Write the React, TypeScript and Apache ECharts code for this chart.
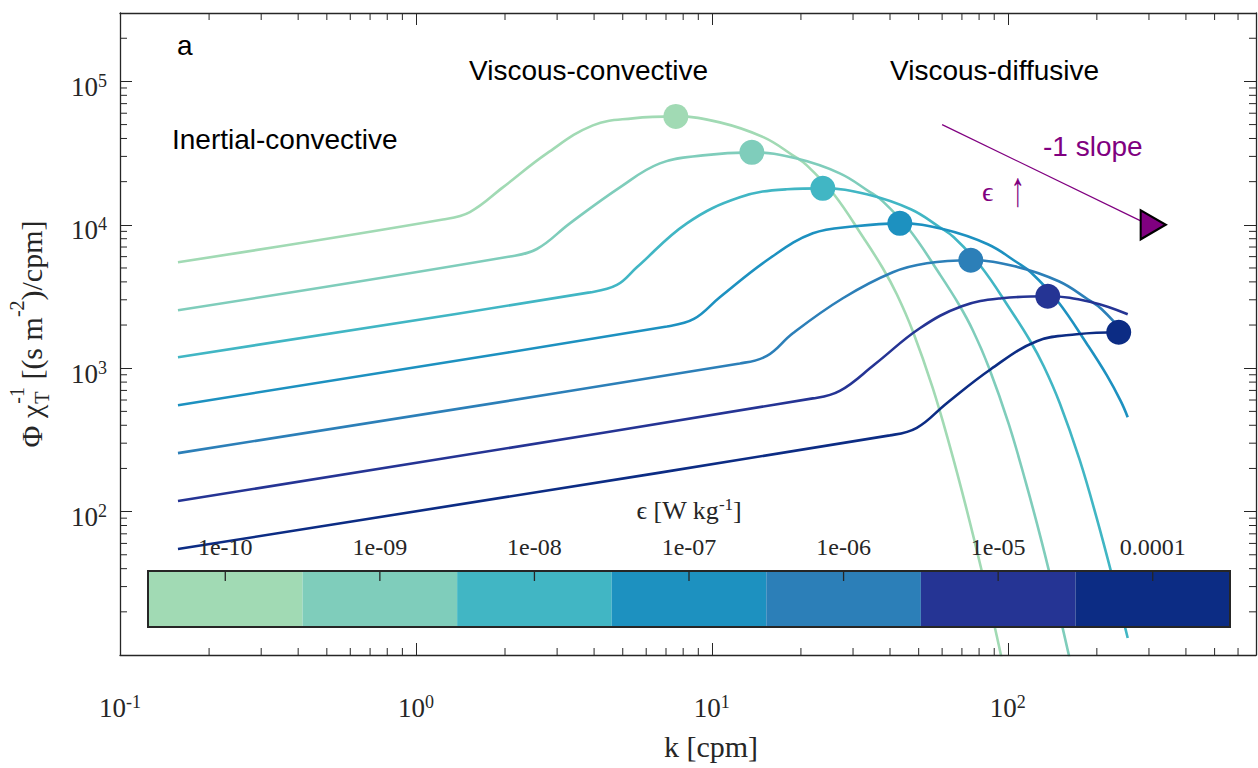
import React, { useEffect, useRef } from 'react';
import * as echarts from 'echarts';

const SERIF = '"Liberation Serif", "Times New Roman", "DejaVu Serif", serif';
const SANS = '"Liberation Sans", Arial, Helvetica, sans-serif';
const AXIS = '#262626';
const PURPLE = '#800080';

const X_MIN = 0.1;
const X_MAX = 690;
const Y_MIN = 10;
const Y_MAX = 3e5;

const epsilonLabels = ['1e-10', '1e-09', '1e-08', '1e-07', '1e-06', '1e-05', '0.0001'];
const curveColors = ['#a1dab4', '#7fcdbb', '#41b6c4', '#1d91c0', '#2c7fb8', '#253494', '#0c2c84'];
const colorbarValues = [1, 1, 1, 1, 1, 1, 1];

// epsilon = 1e-10
const k1 = [0.157, 1.234, 1.522, 1.967, 2.771, 3.963, 5.409, 7.556, 10.64, 14.99, 18.78, 20.94, 25.84, 32.62, 37.83, 42.17, 47.77, 55.8, 63.7, 72.13, 81.69, 91.8, 103.1];
const v1 = [5480, 10890, 12280, 18250, 31500, 49380, 55240, 57030, 51800, 40700, 30500, 25970, 16320, 8052, 4977, 3280, 1810, 725.5, 286.1, 109.2, 38.5, 13.57, 4.41];
// epsilon = 1e-09
const k2 = [0.157, 2.078, 2.563, 3.313, 4.89, 6.673, 9.324, 13.65, 19.22, 27.06, 33.92, 37.83, 46.66, 58.92, 68.31, 76.17, 86.27, 100.8, 115.0, 130.3, 147.5, 165.8];
const v2 = [2537, 6012, 6781, 10240, 18250, 26830, 30500, 32010, 29070, 22850, 17120, 14580, 9156, 4520, 2792, 1840, 1016, 407.1, 160.5, 61.3, 21.6, 7.61];
// epsilon = 1e-08
const k3 = [0.157, 3.871, 4.777, 5.58, 8.232, 12.43, 17.92, 23.71, 33.39, 47.02, 58.92, 65.72, 81.06, 102.4, 118.7, 132.3, 149.9, 175.1, 199.8, 226.3, 254.3];
const v3 = [1193, 3380, 3806, 5055, 10240, 15550, 17680, 17960, 16320, 12830, 9607, 8182, 5138, 2537, 1567, 1033, 570.3, 228.5, 90.09, 34.4, 13.14];
// epsilon = 1e-07
const k4 = [0.157, 7.047, 8.695, 10.64, 15.7, 21.94, 30.42, 43.17, 60.78, 85.6, 107.3, 119.6, 147.5, 186.3, 216.0, 240.9, 254.3];
const v4 = [552.4, 1956, 2206, 3125, 5842, 8727, 9761, 10240, 9303, 7313, 5480, 4667, 2931, 1447, 893.9, 589, 455.5];
// epsilon = 1e-06
const k5 = [0.157, 12.43, 15.34, 18.78, 27.71, 40.88, 53.27, 74.99, 105.6, 148.7, 186.3, 207.8, 254.3];
const v5 = [255.7, 1080, 1218, 1753, 3075, 4667, 5390, 5657, 5138, 4039, 3026, 2577, 1644];
// epsilon = 1e-05
const k6 = [0.157, 21.94, 27.06, 35.54, 50.44, 69.93, 95.4, 136.5, 192.2, 254.3];
const v6 = [118.4, 615.8, 694.7, 1066, 1900, 2705, 3075, 3175, 2884, 2378];
// epsilon = 1e-04
const k7 = [0.157, 39.94, 49.28, 62.22, 87.6, 125.3, 171.1, 237.1, 254.3];
const v7 = [54.79, 340.1, 383.7, 570.3, 984, 1543, 1725, 1781, 1781];

const peakK = [7.556, 13.65, 23.71, 43.17, 74.99, 136.5, 237.1];
const peakV = [57030, 32010, 17960, 10240, 5657, 3175, 1781];

const slopeK = [60, 300];
const slopeV = [50000, 10000];
const arrowK = 310;
const arrowV = 10000;

const minorMultipliers = [2, 3, 4, 5, 6, 7, 8, 9];
const xDecades = [0.1, 1, 10, 100];
const yDecades = [10, 100, 1000, 10000, 100000];

// colorbar box (pixels)
const CB_LEFT = 148;
const CB_TOP = 571;
const CB_WIDTH = 1082;
const CB_HEIGHT = 56;

function measure(text: string, font: string): number {
  const ctx = document.createElement('canvas').getContext('2d');
  if (!ctx) return text.length * 12;
  ctx.font = font;
  return ctx.measureText(text).width;
}

function powLabel(v: number): string {
  const e = Math.log10(v);
  const r = Math.round(e);
  if (Math.abs(e - r) > 1e-6) return '';
  return `{b|10}{s|${r}}`;
}

const tickRich = {
  b: { fontFamily: SERIF, fontSize: 27, color: AXIS, lineHeight: 30 },
  s: { fontFamily: SERIF, fontSize: 18, color: AXIS, lineHeight: 18, verticalAlign: 'top' },
};

export default function App() {
  const ref = useRef<HTMLDivElement>(null);

  useEffect(() => {
    document.body.style.margin = '0';
    if (!ref.current) return;
    const chart = echarts.init(ref.current, undefined, { renderer: 'svg' });

    const curves = [[k1, v1], [k2, v2], [k3, v3], [k4, v4], [k5, v5], [k6, v6], [k7, v7]];

    const xMinor: number[] = [];
    xDecades.forEach((d) => minorMultipliers.forEach((m) => { const v = d * m; if (v > X_MIN && v < X_MAX) xMinor.push(v); }));
    const yMinor: number[] = [];
    yDecades.forEach((d) => minorMultipliers.forEach((m) => { const v = d * m; if (v > Y_MIN && v < Y_MAX) yMinor.push(v); }));

    const lineSeries = curves.map(([ks, vs], i) => ({
      type: 'line',
      xAxisIndex: 0,
      yAxisIndex: 0,
      data: ks.map((k, j) => [k, vs[j]]),
      symbol: 'none',
      showSymbol: false,
      smooth: 0.4,
      lineStyle: { color: curveColors[i], width: 2.6 },
      z: 2,
      silent: true,
    }));

    // y-axis title pieces
    const baseFont = `30px ${SERIF}`;
    const smallFont = `20px ${SERIF}`;
    const p1 = 'Φ χ';
    const p3 = ' [(s m';
    const p5 = ')/cpm]';
    const w1 = measure(p1, baseFont);
    const wT = measure('T', smallFont);
    const wM1 = measure('-1', smallFont);
    const w3 = measure(p3, baseFont);
    const wM2 = measure('-2', smallFont);
    const w5 = measure(p5, baseFont);
    const wStack = Math.max(wT, wM1) + 1;
    const totalW = w1 + wStack + w3 + wM2 + w5;
    const x2 = w1 + 1;
    const x3 = w1 + wStack;
    const x4 = x3 + w3;
    const x5 = x4 + wM2;
    const ts = (text: string, font: string) => ({ text, font, fill: AXIS, align: 'left', verticalAlign: 'middle' });

    const binW = CB_WIDTH / epsilonLabels.length;
    const cbTicks = epsilonLabels.map((_, i) => ({
      type: 'line', z: 30, silent: true,
      shape: { x1: CB_LEFT + (i + 0.5) * binW, y1: CB_TOP, x2: CB_LEFT + (i + 0.5) * binW, y2: CB_TOP + 10 },
      style: { stroke: AXIS, lineWidth: 1.3 },
    }));

    const option: any = {
      animation: false,
      backgroundColor: '#ffffff',
      grid: [
        { left: 120, top: 13, right: 2, bottom: 113, outerBoundsMode: 'none' },
        { left: CB_LEFT, top: CB_TOP, width: CB_WIDTH, height: CB_HEIGHT, outerBoundsMode: 'none' },
      ],
      xAxis: [
        {
          type: 'log', gridIndex: 0, min: X_MIN, max: X_MAX, position: 'bottom',
          axisLine: { show: true, onZero: false, lineStyle: { color: AXIS, width: 1.3 } },
          axisTick: { show: true, inside: true, length: 12, lineStyle: { color: AXIS, width: 1 } },
          axisLabel: { show: true, margin: 38, formatter: powLabel, rich: tickRich },
          splitLine: { show: false },
          z: 6,
        },
        {
          type: 'log', gridIndex: 0, min: X_MIN, max: X_MAX, position: 'top',
          axisLine: { show: true, onZero: false, lineStyle: { color: AXIS, width: 1.3 } },
          axisTick: { show: true, inside: true, length: 12, lineStyle: { color: AXIS, width: 1 } },
          axisLabel: { show: false },
          splitLine: { show: false },
          z: 6,
        },
        {
          type: 'category', gridIndex: 1, position: 'top', data: epsilonLabels,
          axisLine: { show: false, onZero: false },
          axisTick: { show: false },
          axisLabel: { show: true, margin: 12, fontFamily: SERIF, fontSize: 24, color: AXIS },
          splitLine: { show: false },
          z: 11,
        },
      ],
      yAxis: [
        {
          type: 'log', gridIndex: 0, min: Y_MIN, max: Y_MAX, position: 'left',
          axisLine: { show: true, onZero: false, lineStyle: { color: AXIS, width: 1.3 } },
          axisTick: { show: true, inside: true, length: 12, lineStyle: { color: AXIS, width: 1 } },
          axisLabel: { show: true, margin: 13, showMinLabel: false, padding: [11, 0, 0, 0], formatter: powLabel, rich: tickRich },
          splitLine: { show: false },
          z: 6,
        },
        {
          type: 'log', gridIndex: 0, min: Y_MIN, max: Y_MAX, position: 'right',
          axisLine: { show: true, onZero: false, lineStyle: { color: AXIS, width: 1.3 } },
          axisTick: { show: true, inside: true, length: 12, lineStyle: { color: AXIS, width: 1 } },
          axisLabel: { show: false },
          splitLine: { show: false },
          z: 6,
        },
        { type: 'value', gridIndex: 1, min: 0, max: 1, show: false, splitLine: { show: false } },
      ],
      series: [
        ...lineSeries,
        {
          type: 'scatter', xAxisIndex: 0, yAxisIndex: 0, symbol: 'circle', symbolSize: 25, z: 4, silent: true,
          data: peakK.map((k, i) => ({ value: [k, peakV[i]], itemStyle: { color: curveColors[i], opacity: 1 } })),
        },
        {
          type: 'line', xAxisIndex: 0, yAxisIndex: 0, symbol: 'none', silent: true, z: 4,
          data: slopeK.map((k, i) => [k, slopeV[i]]),
          lineStyle: { color: PURPLE, width: 1.3 },
        },
        {
          type: 'scatter', xAxisIndex: 0, yAxisIndex: 0, symbol: 'triangle', symbolRotate: -90, symbolSize: [29, 25], z: 5, silent: true,
          data: [[arrowK, arrowV]],
          itemStyle: { color: PURPLE, borderColor: '#000000', borderWidth: 2.2, opacity: 1 },
        },
        {
          type: 'bar', xAxisIndex: 2, yAxisIndex: 2, barWidth: '100%', barCategoryGap: '0%', z: 10, silent: true,
          data: colorbarValues.map((v, i) => ({ value: v, itemStyle: { color: curveColors[i] } })),
        },
        {
          type: 'custom', xAxisIndex: 0, yAxisIndex: 0, silent: true, z: 6, clip: false,
          data: xMinor.map((v) => [v, 100]),
          renderItem: (params: any, api: any) => {
            const cs = params.coordSys;
            const p = api.coord([api.value(0), 100]);
            const x = p[0];
            return {
              type: 'group',
              children: [
                { type: 'line', shape: { x1: x, y1: cs.y + cs.height, x2: x, y2: cs.y + cs.height - 7 }, style: { stroke: AXIS, lineWidth: 1 } },
                { type: 'line', shape: { x1: x, y1: cs.y, x2: x, y2: cs.y + 7 }, style: { stroke: AXIS, lineWidth: 1 } },
              ],
            };
          },
        },
        {
          type: 'custom', xAxisIndex: 0, yAxisIndex: 0, silent: true, z: 6, clip: false,
          data: yMinor.map((v) => [1, v]),
          renderItem: (params: any, api: any) => {
            const cs = params.coordSys;
            const p = api.coord([1, api.value(1)]);
            const y = p[1];
            return {
              type: 'group',
              children: [
                { type: 'line', shape: { x1: cs.x, y1: y, x2: cs.x + 7, y2: y }, style: { stroke: AXIS, lineWidth: 1 } },
                { type: 'line', shape: { x1: cs.x + cs.width, y1: y, x2: cs.x + cs.width - 7, y2: y }, style: { stroke: AXIS, lineWidth: 1 } },
              ],
            };
          },
        },
      ],
      graphic: [
        { type: 'rect', z: 12, silent: true, shape: { x: CB_LEFT, y: CB_TOP, width: CB_WIDTH, height: CB_HEIGHT }, style: { fill: 'none', stroke: AXIS, lineWidth: 2 } },
        ...cbTicks,
        { type: 'text', z: 20, x: 177, y: 45, style: { text: 'a', font: `28px ${SANS}`, fill: '#000', align: 'left', verticalAlign: 'middle' } },
        { type: 'text', z: 20, x: 172, y: 139, style: { text: 'Inertial-convective', font: `28px ${SANS}`, fill: '#000', align: 'left', verticalAlign: 'middle' } },
        { type: 'text', z: 20, x: 469, y: 70, style: { text: 'Viscous-convective', font: `28px ${SANS}`, fill: '#000', align: 'left', verticalAlign: 'middle' } },
        { type: 'text', z: 20, x: 890, y: 70, style: { text: 'Viscous-diffusive', font: `28px ${SANS}`, fill: '#000', align: 'left', verticalAlign: 'middle' } },
        { type: 'text', z: 20, x: 1043, y: 146, style: { text: '-1 slope', font: `28px ${SANS}`, fill: PURPLE, align: 'left', verticalAlign: 'middle' } },
        { type: 'text', z: 20, x: 982, y: 191, style: { text: 'ϵ', font: `28px ${SERIF}`, fill: PURPLE, align: 'left', verticalAlign: 'middle' } },
        { type: 'text', z: 20, x: 1018, y: 189, scaleX: 1.1, scaleY: 1.9, style: { text: '↑', font: `26px ${SERIF}`, fill: PURPLE, align: 'center', verticalAlign: 'middle' } },
        {
          type: 'text', z: 20, x: 689, y: 510,
          style: {
            text: '{b|ϵ [W kg}{s|-1}{b|]}', align: 'center', verticalAlign: 'middle',
            rich: {
              b: { fontFamily: SERIF, fontSize: 26, fill: AXIS, color: AXIS, lineHeight: 28 },
              s: { fontFamily: SERIF, fontSize: 17, fill: AXIS, color: AXIS, lineHeight: 17, verticalAlign: 'top' },
            },
          },
        },
        { type: 'text', z: 20, x: 711, y: 746, style: { text: 'k [cpm]', font: `30px ${SERIF}`, fill: AXIS, align: 'center', verticalAlign: 'middle' } },
        {
          type: 'group', z: 20, x: 31, y: 334 + totalW / 2, rotation: Math.PI / 2,
          children: [
            { type: 'text', x: 0, y: 0, style: ts(p1, baseFont) },
            { type: 'text', x: x2, y: 11, style: ts('T', smallFont) },
            { type: 'text', x: x2, y: -14, style: ts('-1', smallFont) },
            { type: 'text', x: x3, y: 0, style: ts(p3, baseFont) },
            { type: 'text', x: x4, y: -14, style: ts('-2', smallFont) },
            { type: 'text', x: x5, y: 0, style: ts(p5, baseFont) },
          ],
        },
      ],
    };

    chart.setOption(option);
    return () => { chart.dispose(); };
  }, []);

  return <div ref={ref} style={{ width: 1258, height: 768 }} />;
}
